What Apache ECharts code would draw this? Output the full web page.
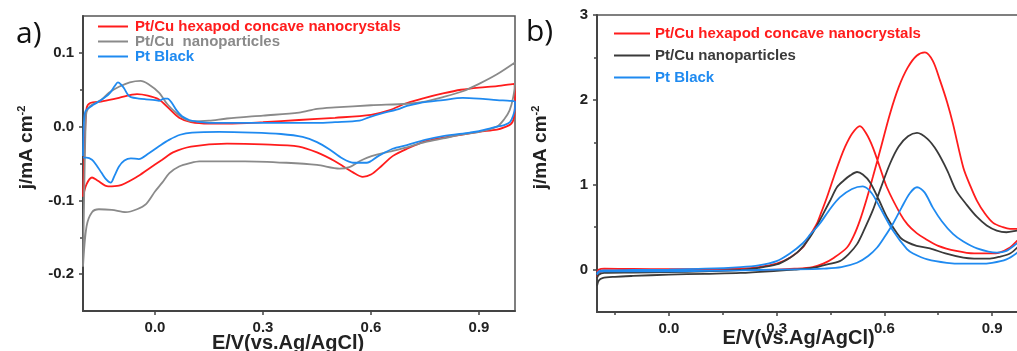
<!DOCTYPE html>
<html>
<head>
<meta charset="utf-8">
<script src="https://cdn.jsdelivr.net/npm/echarts@6/dist/echarts.min.js"></script>
<style>
  html, body { margin: 0; background: #fff; }
  #chart { width: 1017px; height: 351px; }
</style>
</head>
<body>
<div id="chart"></div>
<script>
// names
const nameHexapod = 'Pt/Cu hexapod concave nanocrystals';
const nameNanoA = 'Pt/Cu  nanoparticles';
const nameNanoB = 'Pt/Cu nanoparticles';
const nameBlack = 'Pt Black';

// tick values
const xMajor = [0, 0.3, 0.6, 0.9];
const xMinorB = [-0.15, 0.15, 0.45, 0.75];
const aYMajor = [-0.2, -0.1, 0, 0.1];
const aYMinor = [-0.15, -0.05, 0.05];
const bYMajor = [0, 1, 2, 3];
const bYMinor = [0.5, 1.5, 2.5];

// a) CV in acid, [E, j] pairs, anodic sweep then cathodic sweep
const aHexapod = [
  [-0.2,-0.095],[-0.195,-0.02],[-0.19,0.025],[-0.18,0.032],[-0.15,0.034],[-0.1,0.039],[-0.05,0.044],
  [-0.02,0.042],[0.01,0.037],[0.04,0.024],[0.067,0.012],[0.1,0.006],[0.15,0.004],[0.2,0.004],
  [0.3,0.006],[0.4,0.009],[0.5,0.012],[0.6,0.016],[0.65,0.022],[0.7,0.032],[0.75,0.039],[0.8,0.045],
  [0.85,0.05],[0.9,0.053],[0.95,0.055],[0.998,0.058],
  [1.0,0.04],[0.998,0.015],[0.99,0.004],[0.97,-0.001],[0.95,-0.004],[0.9,-0.007],[0.85,-0.011],
  [0.8,-0.015],[0.75,-0.02],[0.7,-0.03],[0.66,-0.04],[0.63,-0.053],[0.6,-0.065],[0.577,-0.068],
  [0.55,-0.062],[0.5,-0.047],[0.45,-0.035],[0.4,-0.027],[0.3,-0.024],[0.2,-0.023],[0.1,-0.027],
  [0.05,-0.035],[0.02,-0.045],[-0.02,-0.058],[-0.05,-0.068],[-0.1,-0.08],[-0.13,-0.081],
  [-0.16,-0.073],[-0.175,-0.069],[-0.19,-0.078],[-0.2,-0.095]
];
const aNano = [
  [-0.2,-0.19],[-0.197,-0.1],[-0.193,0.0],[-0.19,0.02],[-0.18,0.028],[-0.15,0.036],[-0.128,0.046],
  [-0.1,0.054],[-0.07,0.06],[-0.04,0.062],[-0.02,0.058],[0.011,0.046],[0.035,0.03],[0.058,0.019],
  [0.08,0.011],[0.103,0.007],[0.15,0.008],[0.2,0.011],[0.3,0.015],[0.4,0.019],[0.45,0.024],
  [0.5,0.026],[0.6,0.029],[0.7,0.031],[0.75,0.034],[0.8,0.04],[0.855,0.048],[0.9,0.058],
  [0.95,0.071],[1.0,0.087],
  [1.0,0.06],[0.995,0.04],[0.985,0.022],[0.97,0.01],[0.95,0.0],[0.9,-0.007],[0.85,-0.011],
  [0.8,-0.016],[0.75,-0.021],[0.7,-0.028],[0.65,-0.034],[0.616,-0.038],[0.59,-0.042],
  [0.568,-0.047],[0.54,-0.055],[0.513,-0.057],[0.45,-0.052],[0.365,-0.049],[0.25,-0.047],
  [0.123,-0.047],[0.1,-0.049],[0.067,-0.054],[0.04,-0.063],[0.02,-0.076],[0.0,-0.088],
  [-0.025,-0.105],[-0.05,-0.112],[-0.081,-0.116],[-0.12,-0.113],[-0.156,-0.112],
  [-0.175,-0.116],[-0.19,-0.135],[-0.2,-0.19]
];
const aBlack = [
  [-0.2,-0.04],[-0.198,0.0],[-0.195,0.018],[-0.19,0.023],[-0.17,0.03],[-0.156,0.034],[-0.128,0.044],
  [-0.112,0.055],[-0.103,0.06],[-0.094,0.057],[-0.086,0.052],[-0.075,0.043],[-0.067,0.04],
  [-0.045,0.038],[-0.025,0.037],[0.0,0.036],[0.011,0.035],[0.025,0.038],[0.035,0.038],[0.047,0.032],
  [0.06,0.022],[0.075,0.014],[0.095,0.009],[0.114,0.007],[0.159,0.005],[0.25,0.005],[0.365,0.005],
  [0.45,0.005],[0.5,0.006],[0.568,0.008],[0.596,0.013],[0.63,0.018],[0.671,0.023],[0.7,0.028],
  [0.735,0.032],[0.8,0.036],[0.855,0.039],[0.9,0.038],[0.95,0.036],[0.986,0.035],[1.0,0.034],
  [1.0,0.026],[0.995,0.015],[0.986,0.006],[0.97,0.002],[0.95,0.0],[0.9,-0.006],[0.875,-0.008],
  [0.8,-0.013],[0.75,-0.018],[0.7,-0.025],[0.66,-0.03],[0.62,-0.04],[0.588,-0.049],[0.55,-0.049],
  [0.52,-0.043],[0.485,-0.031],[0.45,-0.021],[0.41,-0.014],[0.35,-0.01],[0.27,-0.008],
  [0.178,-0.007],[0.103,-0.008],[0.07,-0.011],[0.039,-0.018],[0.01,-0.027],[-0.017,-0.036],
  [-0.045,-0.044],[-0.067,-0.043],[-0.085,-0.046],[-0.1,-0.054],[-0.112,-0.066],[-0.123,-0.076],
  [-0.135,-0.072],[-0.148,-0.063],[-0.163,-0.052],[-0.175,-0.045],[-0.19,-0.042],[-0.2,-0.042]
];

// b) methanol oxidation, forward sweep then backward sweep
const bHexapod = [
  [-0.2,-0.09],[-0.195,-0.04],[-0.185,-0.02],[-0.15,-0.015],[-0.1,-0.012],[0,-0.01],[0.1,-0.008],
  [0.2,-0.005],[0.3,0.0],[0.35,0.01],[0.4,0.03],[0.43,0.07],[0.46,0.14],[0.496,0.26],[0.515,0.4],
  [0.532,0.58],[0.55,0.82],[0.568,1.09],[0.588,1.4],[0.616,1.84],[0.64,2.15],[0.665,2.38],
  [0.69,2.52],[0.713,2.56],[0.735,2.46],[0.755,2.23],[0.775,1.97],[0.791,1.72],[0.82,1.2],
  [0.84,0.98],[0.858,0.81],[0.88,0.66],[0.903,0.55],[0.93,0.5],[0.95,0.48],[0.97,0.48],
  [0.985,0.49],[1.0,0.5],
  [1.0,0.48],[0.985,0.4],[0.97,0.34],[0.95,0.26],[0.92,0.2],[0.894,0.19],[0.85,0.19],[0.8,0.22],
  [0.75,0.28],[0.715,0.36],[0.69,0.43],[0.665,0.53],[0.644,0.66],[0.607,0.97],[0.588,1.2],[0.568,1.44],
  [0.55,1.6],[0.532,1.69],[0.51,1.6],[0.49,1.44],[0.476,1.29],[0.46,1.1],[0.44,0.85],[0.425,0.68],
  [0.412,0.54],[0.39,0.38],[0.373,0.26],[0.337,0.14],[0.3,0.07],[0.25,0.03],[0.2,0.012],
  [0.1,0.005],[0.0,0.005],[-0.1,0.008],[-0.18,0.01],[-0.195,0.0],[-0.2,-0.03]
];
const bNano = [
  [-0.2,-0.19],[-0.195,-0.13],[-0.185,-0.1],[-0.15,-0.085],[-0.1,-0.075],[0,-0.06],[0.1,-0.05],
  [0.2,-0.04],[0.3,-0.015],[0.35,0.0],[0.4,0.02],[0.43,0.05],[0.476,0.1],[0.5,0.18],[0.524,0.3],
  [0.545,0.48],[0.568,0.7],[0.59,0.96],[0.616,1.25],[0.64,1.45],[0.666,1.57],[0.691,1.61],
  [0.72,1.54],[0.746,1.4],[0.775,1.17],[0.8,0.93],[0.83,0.76],[0.858,0.62],[0.885,0.52],
  [0.913,0.46],[0.94,0.44],[0.97,0.46],[1.0,0.48],
  [1.0,0.44],[0.985,0.34],[0.97,0.26],[0.95,0.19],[0.92,0.15],[0.894,0.13],[0.85,0.13],
  [0.82,0.14],[0.77,0.19],[0.727,0.25],[0.69,0.28],[0.665,0.32],[0.644,0.38],[0.607,0.62],[0.585,0.82],
  [0.56,1.03],[0.54,1.12],[0.524,1.15],[0.505,1.11],[0.487,1.05],[0.468,0.97],[0.45,0.82],
  [0.43,0.66],[0.41,0.5],[0.393,0.38],[0.375,0.28],[0.357,0.2],[0.33,0.12],[0.3,0.06],
  [0.25,0.02],[0.2,-0.005],[0.1,-0.02],[0,-0.03],[-0.1,-0.035],[-0.18,-0.04],[-0.195,-0.06],
  [-0.2,-0.1]
];
const bBlack = [
  [-0.2,-0.06],[-0.195,-0.03],[-0.185,-0.02],[-0.1,-0.02],[0,-0.02],[0.1,-0.015],[0.2,-0.01],
  [0.3,0.0],[0.4,0.005],[0.43,0.01],[0.48,0.03],[0.524,0.08],[0.555,0.16],[0.58,0.26],[0.6,0.38],
  [0.624,0.54],[0.648,0.73],[0.671,0.9],[0.691,0.97],[0.712,0.91],[0.735,0.73],[0.76,0.57],
  [0.791,0.42],[0.82,0.33],[0.858,0.25],[0.913,0.2],[0.94,0.22],[0.97,0.31],[1.0,0.4],
  [1.0,0.36],[0.985,0.27],[0.97,0.2],[0.94,0.12],[0.9,0.08],[0.866,0.07],[0.82,0.07],[0.774,0.08],
  [0.72,0.12],[0.68,0.19],[0.663,0.24],[0.624,0.46],[0.588,0.73],[0.565,0.9],[0.54,0.98],
  [0.51,0.95],[0.476,0.85],[0.45,0.72],[0.42,0.54],[0.395,0.42],[0.373,0.31],[0.337,0.19],
  [0.3,0.1],[0.25,0.05],[0.2,0.03],[0.1,0.01],[0,0.0],[-0.1,-0.005],[-0.18,-0.01],[-0.195,-0.02],
  [-0.2,-0.05]
];

const RED = '#ff1c1c';
const GRAY_A = '#8a8a8a';
const GRAY_B = '#3a3a3a';
const BLUE = '#1f8af0';
const AXIS = '#444';
const FONT = '"Liberation Sans", Arial, sans-serif';

const chart = echarts.init(document.getElementById('chart'), null, { renderer: 'canvas' });

const tickLabel = (fmt) => ({
  color: '#222', fontFamily: FONT, fontWeight: 'bold', fontSize: 15, margin: 9, formatter: fmt
});

const majorX = (gridIndex, nameGap, padRight) => ({
  type: 'value', gridIndex, min: -0.2, max: 1.0, position: 'bottom',
  axisLine: { show: true, onZero: false, lineStyle: { color: AXIS, width: 2 } },
  axisTick: { show: true, inside: false, length: 4, customValues: xMajor, lineStyle: { color: AXIS, width: 1.5 } },
  axisLabel: Object.assign(tickLabel(v => v.toFixed(1)), { customValues: xMajor }),
  splitLine: { show: false },
  name: 'E/V(vs.Ag/AgCl)', nameLocation: 'middle', nameGap, nameMoveOverlap: false,
  nameTextStyle: { color: '#222', fontFamily: FONT, fontWeight: 'bold', fontSize: 20, padding: [0, padRight, 0, 0] }
});

const minorAxis = (gridIndex, min, max, values, position) => ({
  type: 'value', gridIndex, min, max, position,
  axisLine: { show: false, onZero: false },
  axisTick: { show: true, inside: false, length: 3, customValues: values, lineStyle: { color: AXIS, width: 1.5 } },
  axisLabel: { show: false },
  splitLine: { show: false }
});

const yName = 'j/mA cm{sup|-2}';
const yNameStyle = {
  color: '#222', fontFamily: FONT, fontWeight: 'bold', fontSize: 19, padding: [0, 0, 0, 32],
  rich: { sup: { fontFamily: FONT, fontWeight: 'bold', fontSize: 11, color: '#222', verticalAlign: 'top', padding: [0, 0, 10, 0] } }
};

const majorY = (gridIndex, min, max, values, fmt) => ({
  type: 'value', gridIndex, min, max, position: 'left',
  axisLine: { show: true, onZero: false, lineStyle: { color: AXIS, width: 2 } },
  axisTick: { show: true, inside: false, length: 4, customValues: values, lineStyle: { color: AXIS, width: 1.5 } },
  axisLabel: Object.assign(tickLabel(fmt), { customValues: values }),
  splitLine: { show: false },
  name: yName, nameLocation: 'middle', nameRotate: 90, nameGap: 46, nameMoveOverlap: false,
  nameTextStyle: yNameStyle
});

const line = (name, data, color, xi, yi) => ({
  name, type: 'line', data, xAxisIndex: xi, yAxisIndex: yi,
  smooth: 0.3, symbol: 'none', showSymbol: false, clip: true,
  lineStyle: { color, width: 1.8 }, itemStyle: { color },
  animation: false
});

const legendItem = (name, color) => ({
  name, icon: 'rect', itemStyle: { color }, textStyle: { color }
});

chart.setOption({
  animation: false,
  backgroundColor: '#fff',
  grid: [
    { left: 83, top: 16, right: 502, bottom: 40, outerBoundsMode: 'none', containLabel: false,
      show: true, borderColor: '#555', borderWidth: 1.5 },
    { left: 597, top: 15, right: -11, bottom: 39, outerBoundsMode: 'none', containLabel: false,
      show: true, borderColor: '#555', borderWidth: 1.5 }
  ],
  xAxis: [
    majorX(0, 22, 22),
    majorX(1, 16, 28),
    minorAxis(1, -0.2, 1.0, xMinorB, 'bottom')
  ],
  yAxis: [
    majorY(0, -0.25, 0.15, aYMajor, v => v.toFixed(1)),
    minorAxis(0, -0.25, 0.15, aYMinor, 'left'),
    majorY(1, -0.5, 3, bYMajor, v => String(v)),
    minorAxis(1, -0.5, 3, bYMinor, 'left')
  ],
  legend: [
    {
      orient: 'vertical', left: 93, top: 14, itemWidth: 30, itemHeight: 2, itemGap: 0,
      selectedMode: false,
      textStyle: { fontFamily: FONT, fontWeight: 'bold', fontSize: 15, lineHeight: 15, padding: [0, 0, 0, 2] },
      data: [
        legendItem(nameHexapod, RED),
        legendItem(nameNanoA, GRAY_A),
        legendItem(nameBlack, BLUE)
      ]
    },
    {
      orient: 'vertical', left: 609, top: 21, itemWidth: 36, itemHeight: 2, itemGap: 7,
      selectedMode: false,
      textStyle: { fontFamily: FONT, fontWeight: 'bold', fontSize: 15, lineHeight: 15, padding: [0, 0, 0, 0] },
      data: [
        legendItem(nameHexapod, RED),
        legendItem(nameNanoB, GRAY_B),
        legendItem(nameBlack, BLUE)
      ]
    }
  ],
  graphic: [
    { type: 'text', left: 16, top: 19, style: { text: 'a)', font: '30px "Open Sans", sans-serif', fill: '#111' } },
    { type: 'text', left: 526, top: 17, style: { text: 'b)', font: '30px "Open Sans", sans-serif', fill: '#111' } }
  ],
  series: [
    line(nameHexapod, aHexapod, RED, 0, 0),
    line(nameNanoA, aNano, GRAY_A, 0, 0),
    line(nameBlack, aBlack, BLUE, 0, 0),
    line(nameHexapod, bHexapod, RED, 1, 2),
    line(nameNanoB, bNano, GRAY_B, 1, 2),
    line(nameBlack, bBlack, BLUE, 1, 2)
  ]
});
</script>
</body>
</html>
